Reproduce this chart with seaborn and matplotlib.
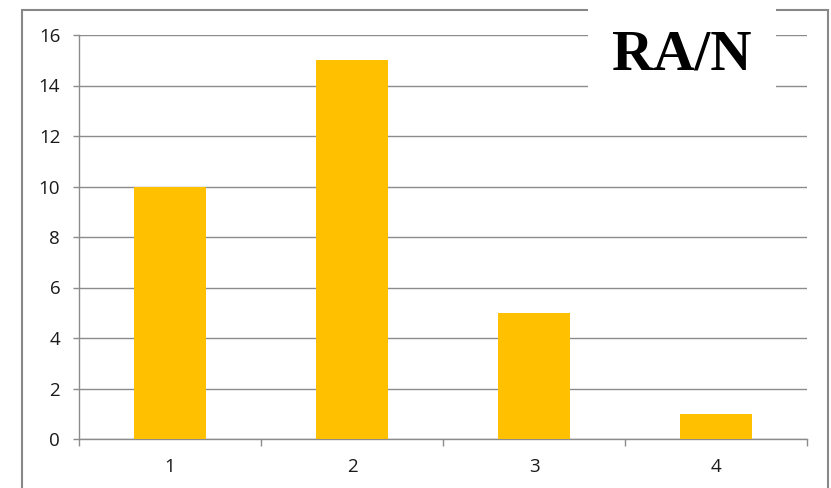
import matplotlib
matplotlib.use("Agg")
import matplotlib.pyplot as plt
from matplotlib.patches import Rectangle
import seaborn as sns
import pandas as pd

categories = ["1", "2", "3", "4"]
values = [10, 15, 5, 1]
yticks = [0, 2, 4, 6, 8, 10, 12, 14, 16]
title = "RA/N"

sns.set_theme(style="white")
plt.rcParams['font.family'] = ['Open Sans', 'DejaVu Sans']

df = pd.DataFrame({"cat": categories, "val": values})

fig = plt.figure(figsize=(8.31, 4.88), dpi=100)
ax = fig.add_axes([79/831, 1-439/488, (807-79)/831, (439-35)/488])

sns.barplot(data=df, x="cat", y="val", color="#FFC000", saturation=1, width=0.4, ax=ax,
            zorder=3, edgecolor="none", linewidth=0)

grid_c = "#8c8c8c"
ax.set_ylim(0, 16)
ax.set_xlim(-0.5, 3.5)
ax.set_yticks(yticks)
ax.set_yticklabels([str(t) for t in yticks])
ax.yaxis.grid(True, color=grid_c, lw=1)
ax.set_axisbelow(True)
ax.set_xlabel("")
ax.set_ylabel("")
for s in ["top", "right"]:
    ax.spines[s].set_visible(False)
for s in ["left", "bottom"]:
    ax.spines[s].set_color(grid_c)
    ax.spines[s].set_linewidth(1)
ax.tick_params(axis="y", length=4.5, color=grid_c, width=1, pad=9, labelsize=13.5, labelcolor="#1a1a1a", left=True)
ax.tick_params(axis="x", which="major", length=0, pad=14, labelsize=13.5, labelcolor="#1a1a1a")
ax.set_xticks([-0.5, 0.5, 1.5, 2.5, 3.5], minor=True)
ax.tick_params(axis="x", which="minor", length=5, color=grid_c, width=1, bottom=True)

# outer frame
fig.patches.append(Rectangle((22/831, -0.05), (828-22)/831, 1.05 - 10/488, transform=fig.transFigure,
                             fill=False, edgecolor="#888888", lw=1.5, zorder=5))
# title box
fig.patches.append(Rectangle((588/831, 1-110/488), (776-588)/831, 110/488 + 0.01, transform=fig.transFigure,
                             facecolor="white", edgecolor="none", zorder=6))
fig.text(682/831, 1-55/488, title, ha="center", va="center", fontsize=41, fontweight="bold",
         color="black", family=["Liberation Serif", "DejaVu Serif"], zorder=7)

fig.savefig("out.png", dpi=100)
